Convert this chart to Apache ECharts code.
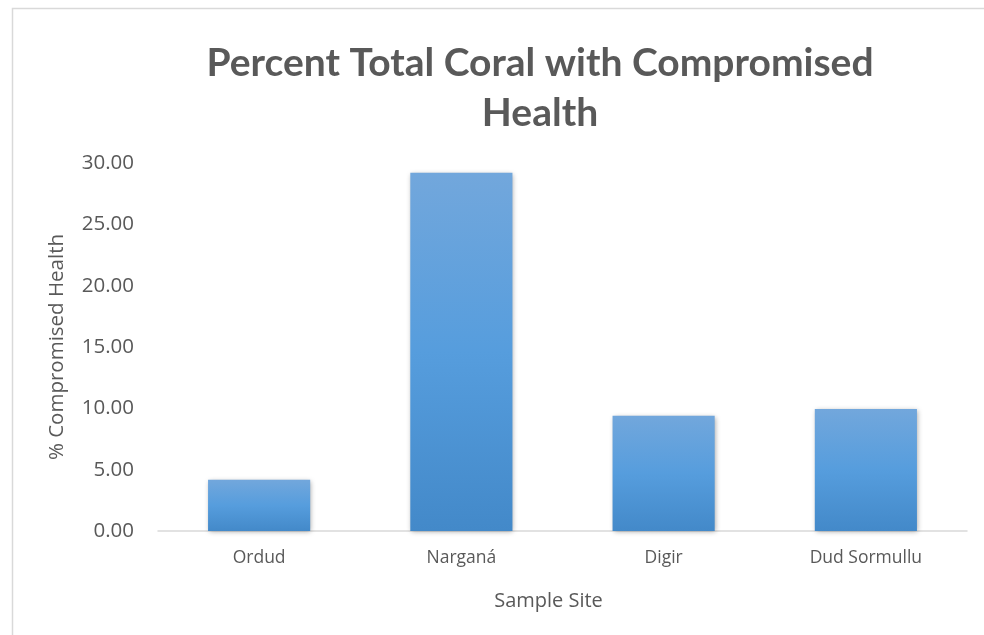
<!DOCTYPE html>
<html><head><meta charset="utf-8">
<script src="https://cdn.jsdelivr.net/npm/echarts@6/dist/echarts.min.js"></script>
<style>html,body{margin:0;padding:0;background:#fff}#c{width:984px;height:635px}</style>
</head><body><div id="c"></div>
<script>
const titleText = 'Percent Total Coral with Compromised\nHealth';
const categories = ['Ordud', 'Narganá', 'Digir', 'Dud Sormullu'];
const values = [4.17, 29.2, 9.4, 9.95];
const yTicks = { min: 0, max: 30, interval: 5 };
const xAxisName = 'Sample Site';
const yAxisName = '% Compromised Health';

const chart = echarts.init(document.getElementById('c'), null, { renderer: 'canvas' });
chart.setOption({
  backgroundColor: '#fff',
  animation: false,
  graphic: [{
    type: 'rect', left: 10, top: 6,
    shape: { width: 1000, height: 700 },
    style: { fill: 'none', stroke: '#d9d9d9', lineWidth: 1.5 },
    silent: true
  }],
  title: {
    text: titleText, left: 535, top: 33, textAlign: 'center',
    textStyle: { fontFamily: 'Lato', fontWeight: 'bold', fontSize: 39, color: '#595959', lineHeight: 50 }
  },
  grid: { left: 158, right: 17, top: 163, bottom: 104, containLabel: false },
  xAxis: {
    type: 'category', data: categories,
    name: xAxisName, nameLocation: 'middle', nameGap: 60,
    nameTextStyle: { fontFamily: 'Open Sans', fontSize: 20, color: '#595959', padding: [0, 28, 0, 0] },
    axisLine: { lineStyle: { color: '#d9d9d9', width: 1.5 } },
    axisTick: { show: false },
    axisLabel: { fontFamily: 'Open Sans', fontSize: 17.5, color: '#595959', margin: 18 }
  },
  yAxis: {
    type: 'value', min: yTicks.min, max: yTicks.max, interval: yTicks.interval,
    name: yAxisName, nameLocation: 'middle', nameGap: 90, nameRotate: 90,
    nameTextStyle: { fontFamily: 'Open Sans', fontSize: 20.5, color: '#595959' },
    axisLine: { show: false }, axisTick: { show: false },
    splitLine: { show: false },
    axisLabel: { fontFamily: 'Open Sans', fontSize: 20.5, color: '#595959', margin: 24,
      formatter: v => v.toFixed(2) }
  },
  series: [{
    type: 'bar', data: values, barWidth: '50.5%',
    itemStyle: {
      color: new echarts.graphic.LinearGradient(0, 0, 0, 1, [
        { offset: 0, color: '#72a7dc' },
        { offset: 0.5, color: '#569ddd' },
        { offset: 1, color: '#4389c9' }
      ]),
      shadowColor: 'rgba(0,0,0,0.35)', shadowBlur: 5, shadowOffsetX: 1, shadowOffsetY: 1
    }
  }]
});
</script></body></html>
